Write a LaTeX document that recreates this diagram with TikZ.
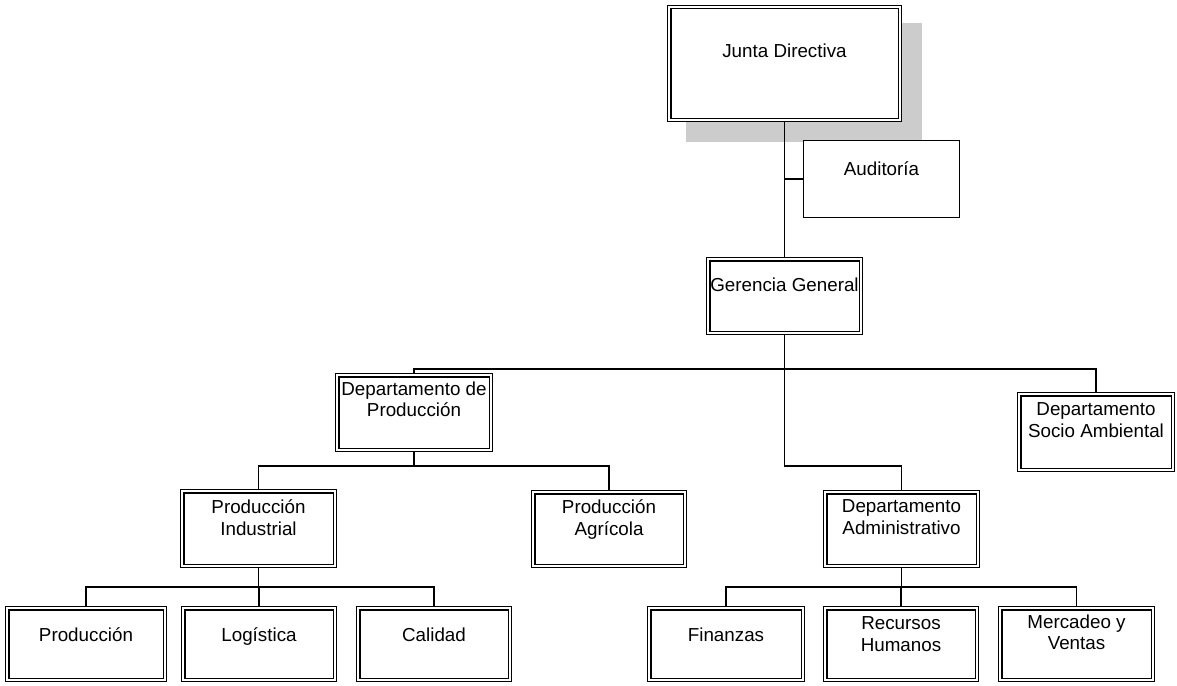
\documentclass[tikz,border=0pt]{standalone}
\usepackage{fontspec}
\setmainfont{Liberation Sans}
\begin{document}
\begin{tikzpicture}[x=1pt,y=-1pt,
  dbox/.style={draw=black, line width=1.2pt, fill=white, rectangle,
    inner sep=0pt, outer sep=0.6pt},
  sbox/.style={draw=black, line width=1pt, fill=white, rectangle, inner sep=0pt, outer sep=0.5pt},
  inner/.style={draw=black, line width=1.2pt},
  lbl/.style={anchor=north, align=center, inner sep=0pt,
    font=\fontsize{18.8}{21.6}\selectfont},
  link/.style={draw=black, line width=1.1pt}]
\useasboundingbox (0,0) rectangle (1177,685);

% shadow behind the board box
\fill[black!20] (686,23) rectangle (922,142);

% boxes
\node[dbox, minimum width=234pt, minimum height=116pt] (jd) at (784.5,63.5) {};
\node[sbox, minimum width=156pt, minimum height=77pt] (aud) at (881.5,179) {};
\node[dbox, minimum width=156pt, minimum height=77pt] (gg) at (784.5,296) {};
\node[dbox, minimum width=157pt, minimum height=78pt] (dp) at (414,412.5) {};
\node[dbox, minimum width=157pt, minimum height=79pt] (dsa) at (1096,432) {};
\node[dbox, minimum width=156pt, minimum height=78pt] (pi) at (258.5,528.5) {};
\node[dbox, minimum width=155pt, minimum height=77pt] (pa) at (609,529) {};
\node[dbox, minimum width=156pt, minimum height=77pt] (da) at (901.5,529) {};
\node[dbox, minimum width=161pt, minimum height=75pt] (prod) at (86,644) {};
\node[dbox, minimum width=155pt, minimum height=75pt] (log) at (259,644) {};
\node[dbox, minimum width=155pt, minimum height=75pt] (cal) at (434,644) {};
\node[dbox, minimum width=157pt, minimum height=75pt] (fin) at (726,644) {};
\node[dbox, minimum width=155pt, minimum height=75pt] (rh) at (901,644) {};
\node[dbox, minimum width=156pt, minimum height=75pt] (mv) at (1076.5,644) {};

% inner line of each double frame
\foreach \n in {jd,gg,dp,dsa,pi,pa,da,prod,log,cal,fin,rh,mv}
  \draw[inner] ([shift={(4,4)}]\n.north west) rectangle ([shift={(-4,-4)}]\n.south east);

% labels
\node[lbl] (jd-t) at (784.5,43.5) {Junta Directiva};
\node[lbl] (aud-t) at (881.5,161.5) {Auditoría};
\node[lbl] (gg-t) at (784.5,277.5) {Gerencia General};
\node[lbl] (dp-t) at (414,381.5) {Departamento de\\Producción};
\node[lbl] (dsa-t) at (1096,402.5) {Departamento\\Socio Ambiental};
\node[lbl] (pi-t) at (258.5,499.5) {Producción\\Industrial};
\node[lbl] (pa-t) at (609,499.5) {Producción\\Agrícola};
\node[lbl] (da-t) at (901.5,499.5) {Departamento\\Administrativo};
\node[lbl] (prod-t) at (86,627.5) {Producción};
\node[lbl] (log-t) at (259,627.5) {Logística};
\node[lbl] (cal-t) at (434,627.5) {Calidad};
\node[lbl] (fin-t) at (726,627.5) {Finanzas};
\node[lbl] (rh-t) at (901,616.5) {Recursos\\Humanos};
\node[lbl] (mv-t) at (1076.5,614.5) {Mercadeo y\\Ventas};

% junction points of the connectors
\coordinate (bar) at (784.5,369);
\coordinate (adm) at (784.5,466);
\coordinate (prodbar) at (414,466);
\coordinate (indbar) at (258.5,587);
\coordinate (admbar) at (901.5,587);

% connectors
\draw[link] (jd.south) -- (gg.north);
\draw[link] (aud.west) -- (aud.west -| jd.south);
\draw[link] (dp.north) |- (bar) -| (dsa.north);
\draw[link] (gg.south) -- (bar) -- (adm) -| (da.north);
\draw[link] (dp.south) -- (prodbar);
\draw[link] (pi.north) |- (prodbar) -| (pa.north);
\draw[link] (pi.south) -- (indbar);
\draw[link] (prod.north) |- (indbar) -| (log.north);
\draw[link] (indbar) -| (cal.north);
\draw[link] (da.south) -- (admbar);
\draw[link] (fin.north) |- (admbar) -| (rh.north);
\draw[link] (admbar) -| (mv.north);
\end{tikzpicture}
\end{document}
